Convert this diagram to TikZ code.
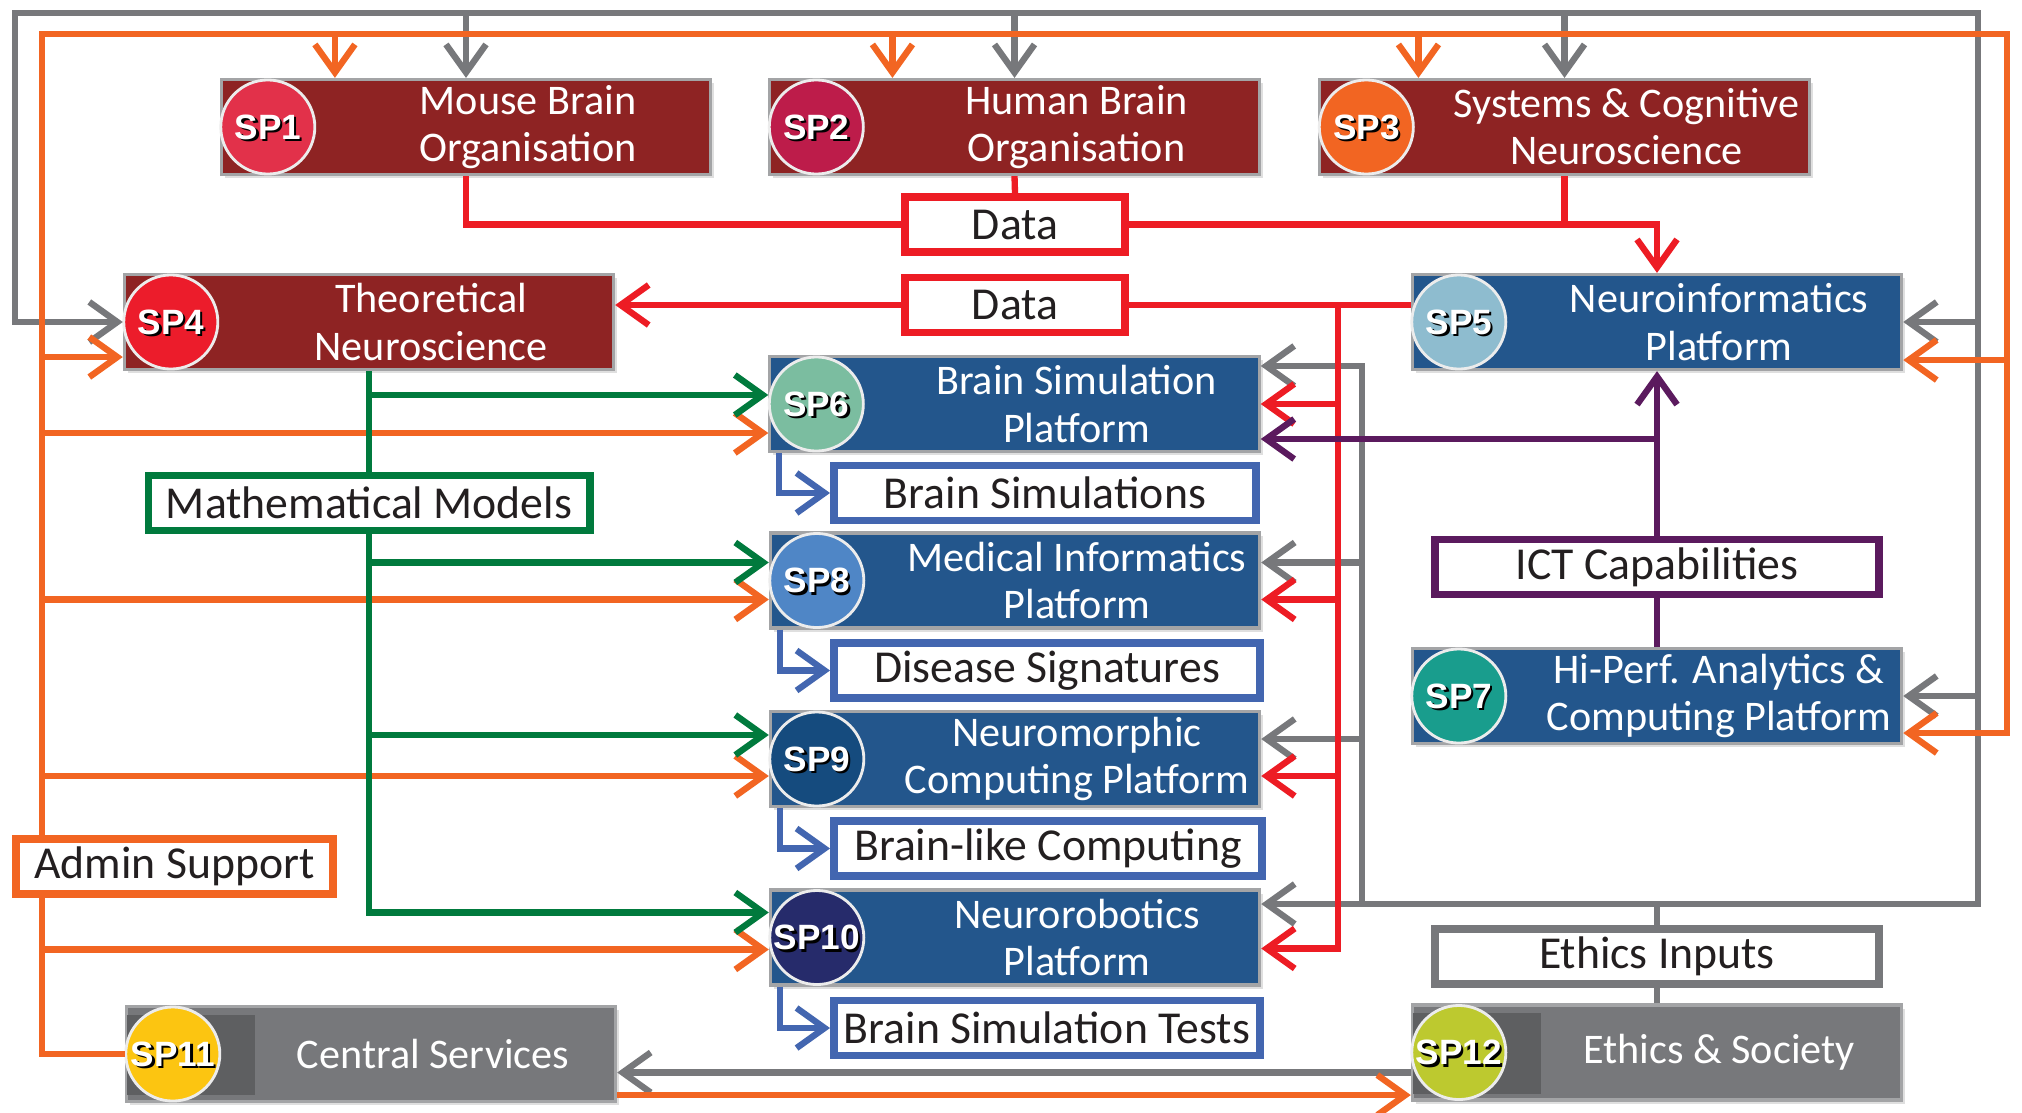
\documentclass[tikz,border=0pt]{standalone}
\usepackage{fontspec}
\setmainfont{Carlito}
\newfontfamily\tagfont{Liberation Sans}
\usepackage{xcolor}
\usepackage{tikz}
\usetikzlibrary{arrows.meta,positioning,calc,shadows}
\definecolor{ink}{HTML}{231F20}
\definecolor{brick}{HTML}{8E2323}
\definecolor{navy}{HTML}{23568C}
\definecolor{slate}{HTML}{77787B}
\definecolor{slatedark}{HTML}{5E5F61}
\definecolor{rimgray}{HTML}{A3A4A6}
\definecolor{lgray}{HTML}{77787B}
\definecolor{lorange}{HTML}{F26522}
\definecolor{lred}{HTML}{ED1C24}
\definecolor{lgreen}{HTML}{007A3D}
\definecolor{lpurple}{HTML}{5B1A5E}
\definecolor{lblue}{HTML}{4366B0}
\definecolor{dot1}{HTML}{E2314A}
\definecolor{dot2}{HTML}{BD1C4A}
\definecolor{dot3}{HTML}{F26522}
\definecolor{dot4}{HTML}{EC1C2B}
\definecolor{dot5}{HTML}{8EBCCF}
\definecolor{dot6}{HTML}{7BBDA0}
\definecolor{dot7}{HTML}{199D8D}
\definecolor{dot8}{HTML}{4F86C6}
\definecolor{dot9}{HTML}{154B7E}
\definecolor{dot10}{HTML}{262B6B}
\definecolor{dot11}{HTML}{FCC511}
\definecolor{dot12}{HTML}{BDC92F}

\begin{document}
\begin{tikzpicture}[x=0.01cm,y=-0.01cm,>={Straight Barb[length=2.8mm,width=4mm]},
  spbox/.style={draw=rimgray,line width=0.9pt,fill=#1,minimum width=4.89cm,minimum height=0.95cm,inner sep=0pt,
    drop shadow={shadow xshift=1pt,shadow yshift=-1pt,opacity=0.25}},
  spdot/.style={circle,draw=white!85!gray,line width=0.8pt,fill=#1,minimum size=0.94cm,inner sep=0pt},
  sptag/.style={font=\tagfont\bfseries\fontsize{10}{10}\selectfont,inner sep=0pt},
  sptitle/.style={align=center,text=white,font=\fontsize{12}{13.4}\selectfont,inner sep=0pt},
  outbox/.style={draw=#1,line width=2.2pt,fill=white,inner sep=0pt,text=ink,
    font=\fontsize{13}{15}\selectfont,minimum height=0.55cm},
  link/.style={draw=#1,line width=1.8pt}]
  \fill[white] (0,0) rectangle (2022,1112);
  \useasboundingbox (0,0) rectangle (2022,1112);

  \foreach \n/\x/\y/\fillc/\band/\title in {
    1/466/127/brick/none/{Mouse Brain\\Organisation},
    2/1014.5/127/brick/none/{Human Brain\\Organisation},
    3/1564.5/127/brick/none/{Systems \& Cognitive\\Neuroscience},
    4/369/322/brick/none/{Theoretical\\Neuroscience},
    5/1657/322/navy/none/{Neuroinformatics\\Platform},
    6/1014.5/404/navy/none/{Brain Simulation\\Platform},
    7/1657/696/navy/none/{Hi-Perf. Analytics \&\\Computing Platform},
    8/1015/580.5/navy/none/{Medical Informatics\\Platform},
    9/1015/759/navy/none/{Neuromorphic\\Computing Platform},
    10/1015/937.5/navy/none/{Neurorobotics\\Platform},
    11/371/1054/slate/slatedark/{Central Services},
    12/1657/1052.5/slate/slatedark/{Ethics \& Society}}{
    \node[spbox=\fillc] (sp\n) at (\x,\y) {};
    \path[fill=\band] ([xshift=.5pt,yshift=-.1cm]sp\n.north west) rectangle ([xshift=1.3cm,yshift=.08cm]sp\n.south west);
    \node[spdot=dot\n] (dot\n) at ([xshift=.48cm]sp\n.west) {};
    \node[sptag,text=black] at ([xshift=.7pt,yshift=-.7pt]dot\n) {SP\n};
    \node[sptag,text=white] at (dot\n) {SP\n};
    \node[sptitle] at ([xshift=.62cm]sp\n.center) {\title};
  }

  \node[outbox=lred,minimum width=2.2cm] (data1) at (1015,224.5) {Data};
  \node[outbox=lred,minimum width=2.2cm] (data2) at (1015,305) {Data};
  \node[outbox=lgreen,minimum width=4.41cm] (mathm) at (369,503) {Mathematical Models};
  \node[outbox=lorange,minimum width=3.17cm] (admin) at (174.5,866.5) {Admin Support};
  \node[outbox=lblue,minimum width=4.22cm] (bsims) at (1045,493) {Brain Simulations};
  \node[outbox=lblue,minimum width=4.26cm] (disease) at (1047,670.5) {Disease Signatures};
  \node[outbox=lblue,minimum width=4.28cm] (brainlike) at (1048,848.5) {Brain-like Computing};
  \node[outbox=lblue,minimum width=4.26cm] (bstests) at (1047,1028) {Brain Simulation Tests};
  \node[outbox=lpurple,minimum width=4.44cm] (ict) at (1657,567) {ICT Capabilities};
  \node[outbox=lgray,minimum width=4.44cm] (ethics) at (1657,956.5) {Ethics Inputs};

  \coordinate (gtl) at (15,13);
  \coordinate (gtr) at (1978,13);
  \coordinate (gbr) at (1978,904);
  \coordinate (gmid) at (1362,904);
  \coordinate (otl) at (42,34);
  \coordinate (otr) at (2007,34);
  \coordinate (rfork) at (1338,305);

  % ethics inputs
  \draw[link=lgray] (sp12.north) -- (ethics.south);
  \draw[link=lgray,->] (ethics.north) -- (ethics.north |- gbr) -- (gbr) -- (gtr) -- (gtl) |- (sp4.west);
  \draw[link=lgray,->] (gbr) -- (gbr -| sp10.east);
  \draw[link=lgray,->] (gmid) |- ([yshift=.38cm]sp6.east);
  \draw[link=lgray,->] ([yshift=.18cm]sp8.east -| gmid) -- ([yshift=.18cm]sp8.east);
  \draw[link=lgray,->] ([yshift=.2cm]sp9.east -| gmid) -- ([yshift=.2cm]sp9.east);
  \foreach \n in {1,2,3}
    \draw[link=lgray,->] (sp\n.north |- gtl) -- (sp\n.north);
  \foreach \n in {5,7}
    \draw[link=lgray,->] (sp\n.east -| gtr) -- (sp\n.east);
  \draw[link=lgray,->] ([yshift=-.2cm]sp12.west) -- ([yshift=-.2cm]sp12.west -| sp11.east);

  % admin support
  \draw[link=lorange] (sp11.west) -| (admin.south -| otl);
  \draw[link=lorange,->] (admin.north -| otl) -- (otl) -- (otr) |- ([yshift=-.37cm]sp7.east);
  \foreach \n/\dx in {1/-1.31,2/-1.22,3/-1.46}
    \draw[link=lorange,->] ([xshift=\dx cm]sp\n.north |- otl) -- ([xshift=\dx cm]sp\n.north);
  \foreach \n/\dy in {4/-.35,6/-.29,8/-.19,9/-.17,10/-.12}
    \draw[link=lorange,->] ([yshift=\dy cm]sp\n.west -| otl) -- ([yshift=\dy cm]sp\n.west);
  \draw[link=lorange,->] ([yshift=-.38cm]sp5.east -| otr) -- ([yshift=-.38cm]sp5.east);
  \draw[link=lorange,->] ([yshift=-.41cm]sp11.east) -- ([yshift=-.41cm]sp11.east -| sp12.west);

  % data
  \draw[link=lred] (sp1.south) |- (data1.west);
  \draw[link=lred] (sp2.south) -- (data1.north);
  \draw[link=lred,->] (data1.east) -| (sp5.north);
  \draw[link=lred] (sp3.south) -- (sp3.south |- data1.east);
  \draw[link=lred] (data2.east -| sp5.west) -- (data2.east);
  \draw[link=lred,->] (data2.west) -- (data2.west -| sp4.east);
  \draw[link=lred,->] (rfork) |- ([yshift=-.11cm]sp10.east);
  \foreach \n/\dy in {6/0,8/-.19,9/-.17}
    \draw[link=lred,->] ([yshift=\dy cm]sp\n.east -| rfork) -- ([yshift=\dy cm]sp\n.east);

  % models
  \draw[link=lgreen] (sp4.south) -- (mathm.north);
  \draw[link=lgreen,->] (mathm.south) |- ([yshift=.25cm]sp10.west);
  \foreach \n/\dy in {6/.09,8/.18,9/.24}
    \draw[link=lgreen,->] ([yshift=\dy cm]sp\n.west -| mathm.south) -- ([yshift=\dy cm]sp\n.west);

  % ict
  \draw[link=lpurple,->] (ict.north) -- (sp5.south);
  \draw[link=lpurple] (sp7.north) -- (ict.south);
  \draw[link=lpurple,->] ([yshift=-.35cm]sp6.east -| ict.north) -- ([yshift=-.35cm]sp6.east);

  % outputs
  \foreach \n/\res in {6/bsims,8/disease,9/brainlike,10/bstests}
    \draw[link=lblue,->] ([xshift=.11cm]sp\n.south west) |- (\res.west);
\end{tikzpicture}
\end{document}
